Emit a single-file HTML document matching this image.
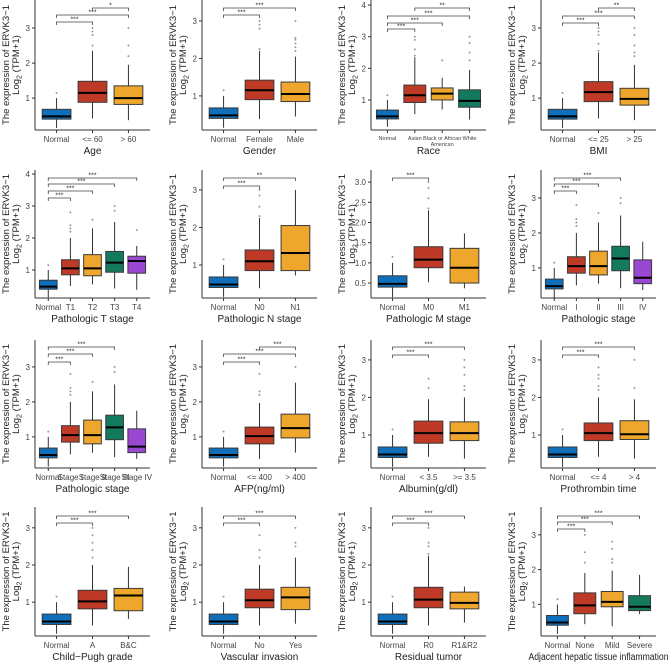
<!DOCTYPE html>
<html><head><meta charset="utf-8">
<style>
html,body{margin:0;padding:0;background:#fff;}
svg{display:block;font-family:"Liberation Sans",sans-serif;}
</style></head>
<body>
<svg id="chart" width="669" height="664" viewBox="0 0 669 664"></svg>
<script>
// ---- data ----
const panelTitles = ["Age","Gender","Race","BMI","Pathologic T stage","Pathologic N stage","Pathologic M stage","Pathologic stage","Pathologic stage","AFP(ng/ml)","Albumin(g/dl)","Prothrombin time","Child\u2212Pugh grade","Vascular invasion","Residual tumor","Adjacent hepatic tissue inflammation"];
const panelCategories = [
 ["Normal","<= 60","> 60"],["Normal","Female","Male"],["Normal","Asian","Black or African|American","White"],["Normal","<= 25","> 25"],
 ["Normal","T1","T2","T3","T4"],["Normal","N0","N1"],["Normal","M0","M1"],["Normal","I","II","III","IV"],
 ["Normal","Stage I","Stage II","Stage III","Stage IV"],["Normal","<= 400","> 400"],["Normal","< 3.5",">= 3.5"],["Normal","<= 4","> 4"],
 ["Normal","A","B&C"],["Normal","No","Yes"],["Normal","R0","R1&R2"],["Normal","None","Mild","Severe"]
];
const normalStats = [0.15,0.4,0.48,0.68,1.0];
const normalOutliers = [1.15];
// [lowWhisker, q1, median, q3, highWhisker] per non-normal group
const panelStats = [
 [[0.42,0.88,1.15,1.48,2.35],[0.37,0.82,1.0,1.35,1.95]],
 [[0.38,0.9,1.15,1.42,2.2],[0.45,0.85,1.05,1.37,2.05]],
 [[0.55,0.92,1.15,1.47,2.35],[0.7,1.0,1.2,1.38,1.7],[0.38,0.77,0.97,1.32,1.95]],
 [[0.42,0.9,1.17,1.47,2.3],[0.37,0.8,0.98,1.28,1.95]],
 [[0.5,0.85,1.05,1.32,2.0],[0.55,0.82,1.05,1.48,2.3],[0.42,0.93,1.23,1.58,2.5],[0.38,0.9,1.28,1.43,1.75]],
 [[0.38,0.85,1.1,1.4,2.25],[0.72,0.85,1.32,2.05,3.0]],
 [[0.52,0.88,1.08,1.4,2.3],[0.37,0.5,0.88,1.36,1.73]],
 [[0.5,0.85,1.05,1.32,2.0],[0.55,0.8,1.05,1.48,2.3],[0.42,0.92,1.27,1.62,2.5],[0.37,0.55,0.72,1.23,1.75]],
 [[0.5,0.85,1.05,1.32,2.0],[0.55,0.8,1.05,1.48,2.3],[0.42,0.92,1.27,1.62,2.5],[0.37,0.55,0.72,1.23,1.75]],
 [[0.37,0.8,1.02,1.28,1.97],[0.55,0.97,1.25,1.65,2.55]],
 [[0.42,0.78,1.05,1.37,1.95],[0.37,0.85,1.05,1.35,2.0]],
 [[0.42,0.85,1.05,1.32,2.0],[0.37,0.88,1.02,1.38,1.95]],
 [[0.37,0.82,1.02,1.32,2.0],[0.55,0.77,1.18,1.37,1.95]],
 [[0.37,0.85,1.05,1.35,2.0],[0.42,0.8,1.13,1.4,2.2]],
 [[0.37,0.85,1.07,1.4,2.25],[0.45,0.82,0.98,1.27,1.42]],
 [[0.43,0.73,0.97,1.33,1.9],[0.37,0.93,1.07,1.37,1.97],[0.72,0.82,0.93,1.25,1.85]]
];
const panelOutliers = [
 [[2.5,2.8,2.9,3.0],[2.2,2.5,3.0]],
 [[2.25,2.8,2.9,3.0],[2.2,2.3,2.4,2.5,2.55,3.0]],
 [[2.4,2.6,2.9,3.0],[2.25],[2.25,2.5,2.8,3.0]],
 [[2.35,2.55,2.8,2.9,3.0],[2.2,2.3,2.5,2.8,3.0]],
 [[2.2,2.3,2.4,2.8],[2.57],[2.85,3.0],[2.25]],
 [[2.3,2.55,2.85,3.0],[]],
 [[2.35,2.6,2.85,3.0],[]],
 [[2.2,2.3,2.4,2.8],[2.57],[2.85,3.0],[]],
 [[2.2,2.3,2.4,2.8],[2.57],[2.85,3.0],[]],
 [[2.2,2.3,2.8],[3.0]],
 [[2.25,2.5],[2.2,2.3,2.6,2.8,3.0]],
 [[2.2,2.3,2.5,2.6,2.8],[2.25,3.0]],
 [[2.2,2.4,2.6,2.8,3.0],[]],
 [[2.2,2.4,2.8],[2.5,2.6,3.0]],
 [[2.3,2.5,2.6,3.0],[]],
 [[2.2,2.5,3.0],[2.2,2.3,2.6,2.8],[]]
];
const panelYMin = [0.09,0.09,0.05,0.09, 0.125,0.12,0.13,0.14, 0.11,0.11,0.12,0.12, 0.09,0.09,0.09,0.09];
const panelYMax = [3.8,3.56,4.16,3.8, 4.125,3.53,3.3,3.8, 3.77,3.77,3.53,3.53, 3.56,3.56,3.56,3.8];
const panelTicks = [
 ["1","2","3"],["1","2","3"],["1","2","3","4"],["1","2","3"],
 ["1","2","3","4"],["1","2","3"],["0.5","1.0","1.5","2.0","2.5","3.0"],["1","2","3"],
 ["1","2","3"],["1","2","3"],["1","2","3"],["1","2","3"],
 ["1","2","3"],["1","2","3"],["1","2","3"],["1","2","3"]
];
// [from, to, label, offset px below panel top]
const panelBrackets = [
 [[0,1,"***",22],[0,2,"***",15],[1,2,"*",8]],
 [[0,1,"***",15],[0,2,"***",8]],
 [[0,1,"***",29],[0,2,"***",23],[0,3,"***",16],[1,3,"**",8]],
 [[0,1,"***",23],[0,2,"***",16],[1,2,"**",8]],
 [[0,1,"***",28],[0,2,"***",21],[0,3,"***",14],[0,4,"***",8]],
 [[0,1,"***",16],[0,2,"**",8]],
 [[0,1,"***",8]],
 [[0,1,"***",21],[0,2,"***",14],[0,3,"***",8]],
 [[0,1,"***",22],[0,2,"***",14],[0,3,"***",7]],
 [[0,1,"***",22],[0,2,"***",14],[1,2,"***",7]],
 [[0,1,"***",15],[0,2,"***",7]],
 [[0,1,"***",15],[0,2,"***",7]],
 [[0,1,"***",16],[0,2,"***",9]],
 [[0,1,"***",16],[0,2,"***",9]],
 [[0,1,"***",16],[0,2,"***",9]],
 [[0,1,"***",22],[0,2,"***",15],[0,3,"***",9]]
];
const palette = ["#0F6FBA","#BE3A26","#EFA62C","#137A5E","#9A48D2"];
// ---- layout ----
const colAxisX = [35,202,371,541];
const rowTop = [0,170,340,507];
const rowBottom = [130,298,468,636];
const plotW = 115;
const NS = "http://www.w3.org/2000/svg";
const svg = document.getElementById("chart");
function mk(tag, attrs, parent){
  const e = document.createElementNS(NS, tag);
  for (const k in attrs) e.setAttribute(k, attrs[k]);
  (parent||svg).appendChild(e);
  return e;
}
panelTitles.forEach((title, p) => {
  const col = p % 4, row = Math.floor(p/4);
  const ax = colAxisX[col], top = rowTop[row], bot = rowBottom[row];
  const g = mk("g", {});
  
  
  const y0 = panelYMin[p], y1 = panelYMax[p];
  const yScale = v => bot - (v - y0) / (y1 - y0) * (bot - top);
  const cats = panelCategories[p];
  const n = cats.length;
  const step = plotW / (n - 1 + 1.2);
  const xScale = i => ax + (0.6 + i) * step;
  const bw = step * 0.8;
  const yAxis = mk("line", {x1:ax, y1:top, x2:ax, y2:bot, stroke:"#333", "stroke-width":1}, g);
  
  
  const xAxis = mk("line", {x1:ax, y1:bot, x2:ax+plotW, y2:bot, stroke:"#333", "stroke-width":1}, g);
  
  
  panelTicks[p].forEach(t => {
    const y = yScale(parseFloat(t));
    mk("line", {x1:ax-3, y1:y, x2:ax, y2:y, stroke:"#333"}, g);
    const tx = mk("text", {x:ax-5, y:y+3, "font-size":8, fill:"#444", "text-anchor":"end"}, g);
    tx.textContent = t;
    
    
  });
  const cy = (top + bot) / 2;
  const yt = mk("text", {x:0, y:0, "font-size":9.5, fill:"#222", "text-anchor":"middle", transform:`translate(${ax-26},${cy}) rotate(-90)`}, g);
  yt.textContent = "The expression of ERVK3\u22121";
  
  
  const yt2 = mk("text", {x:0, y:0, "font-size":9.5, fill:"#222", "text-anchor":"middle", transform:`translate(${ax-16},${cy}) rotate(-90)`}, g);
  yt2.innerHTML = 'Log<tspan font-size="7" dy="2.5">2</tspan><tspan dy="-2.5"> (TPM+1)</tspan>';
  
  
  const statsAll = [normalStats].concat(panelStats[p]);
  const outAll = [normalOutliers].concat(panelOutliers[p]);
  statsAll.forEach((s, i) => {
    const cx = xScale(i);
    const bg = mk("g", {}, g);
    
    
    mk("line", {x1:cx, y1:yScale(s[0]), x2:cx, y2:yScale(s[1]), stroke:"#333", "stroke-width":1}, bg);
    mk("line", {x1:cx, y1:yScale(s[3]), x2:cx, y2:yScale(s[4]), stroke:"#333", "stroke-width":1}, bg);
    mk("rect", {x:cx-bw/2, y:yScale(s[3]), width:bw, height:yScale(s[1])-yScale(s[3]), fill:palette[i], stroke:"#3a3a3a", "stroke-width":1}, bg);
    mk("line", {x1:cx-bw/2, y1:yScale(s[2]), x2:cx+bw/2, y2:yScale(s[2]), stroke:"#000", "stroke-width":2}, bg);
    outAll[i].forEach(o => {
      mk("circle", {cx:cx, cy:yScale(o), r:1, fill:"#999"}, bg);
    });
    mk("line", {x1:cx, y1:bot, x2:cx, y2:bot+3, stroke:"#333"}, g);
    const parts = cats[i].split('|');
    const small = p === 2;
    parts.forEach((pt, k) => {
      const tl = mk("text", {x:cx, y:bot + (small ? 10 : 12) + k*6, "font-size": small ? 5.5 : 8, fill:"#444", "text-anchor":"middle"}, g);
      tl.textContent = pt;
      
      
    });
  });
  const xtAttrs = {x: ax + plotW/2, y: bot + 24, "font-size":10, fill:"#222", "text-anchor":"middle"};
  if (title.length > 25) { xtAttrs.textLength = 140; xtAttrs.lengthAdjust = "spacingAndGlyphs"; }
  const xt = mk("text", xtAttrs, g);
  xt.textContent = title;
  
  
  panelBrackets[p].forEach(b => {
    const xa = xScale(b[0]), xb = xScale(b[1]), y = top + b[3];
    const br = mk("path", {d:`M${xa},${y+3}V${y}H${xb}V${y+3}`, fill:"none", stroke:"#444", "stroke-width":0.8}, g);
    
    
    const lt = mk("text", {x:(xa+xb)/2, y:y-0.5, "font-size":7, fill:"#333", "text-anchor":"middle"}, g);
    lt.textContent = b[2];
    
    
  });
});
</script>
</body></html>
